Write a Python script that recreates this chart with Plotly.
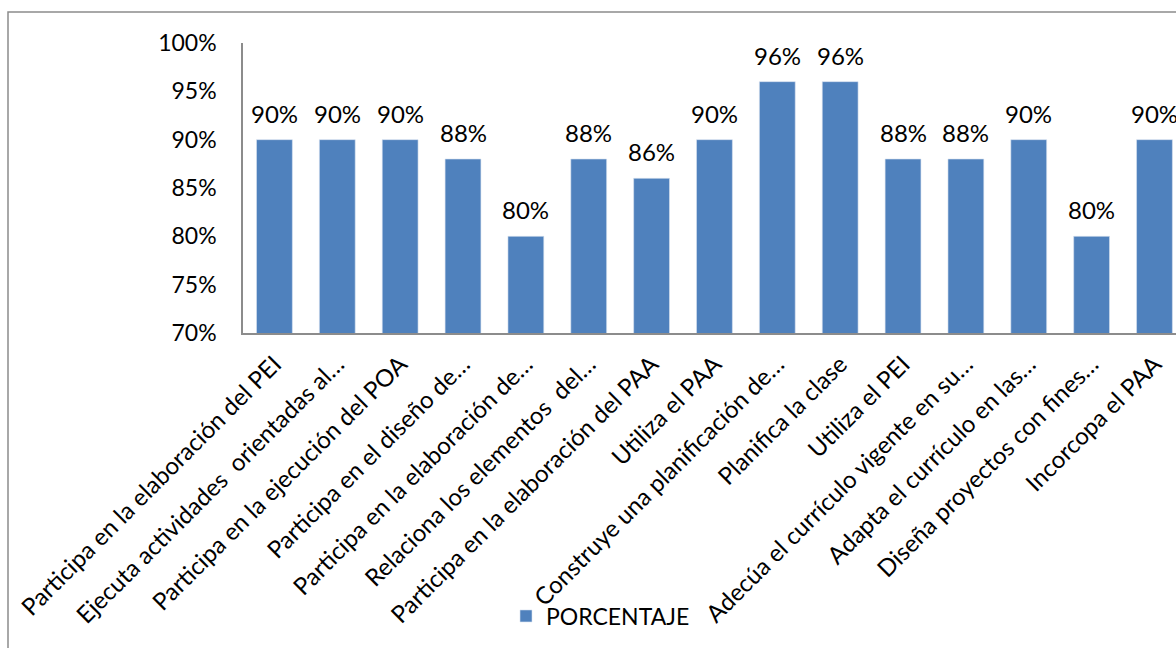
import plotly.graph_objects as go

# Survey items (abbreviated as in the source sheet) and share of positive answers
categories = [
    "Participa en la elaboración del PEI",
    "Ejecuta actividades  orientadas al…",
    "Participa en la ejecución del POA",
    "Participa en el diseño de…",
    "Participa en la elaboración de…",
    "Relaciona los elementos  del…",
    "Participa en la elaboración del PAA",
    "Utiliza el PAA",
    "Construye una planificación de…",
    "Planifica la clase",
    "Utiliza el PEI",
    "Adecúa el currículo vigente en su…",
    "Adapta el currículo en las…",
    "Diseña proyectos con fines…",
    "Incorcopa el PAA",
]
porcentaje = [0.90, 0.90, 0.90, 0.88, 0.80, 0.88, 0.86, 0.90, 0.96, 0.96,
              0.88, 0.88, 0.90, 0.80, 0.90]
y_ticks = [0.70, 0.75, 0.80, 0.85, 0.90, 0.95, 1.00]

FONT = "Lato"
BAR = "#4F81BD"
AXIS = "#8C8C8C"

W, H = 1176, 648
ML, MT, MB = 243, 43, 315
plot_w = W - ML
plot_h = H - MT - MB

fig = go.Figure()
fig.add_trace(go.Bar(
    x=categories,
    y=porcentaje,
    name="PORCENTAJE",
    marker=dict(color=BAR, line=dict(color="#D9E3F0", width=0.6)),
    cliponaxis=False,
))

# value labels above each bar
for c, v in zip(categories, porcentaje):
    fig.add_annotation(
        x=c, y=v, text=f"{v * 100:.0f}%", showarrow=False,
        yanchor="bottom", yshift=10,
        font=dict(family=FONT, size=24, color="black"),
    )

# chart frame (only the top and left edges fall inside the page)
px_to_x = lambda px: (px - ML) / plot_w
py_to_y = lambda py: (H - MB - py) / plot_h
fig.add_shape(
    type="rect", xref="paper", yref="paper",
    x0=px_to_x(8), x1=px_to_x(1200), y0=py_to_y(700), y1=py_to_y(12),
    line=dict(color=AXIS, width=1.5), fillcolor="rgba(0,0,0,0)", layer="below",
)

# categories are 62.86 px apart; the last one sits at the page edge
n_visible = plot_w / 62.86
fig.update_layout(
    width=W, height=H,
    margin=dict(l=ML, r=0, t=MT, b=MB, pad=0),
    paper_bgcolor="white", plot_bgcolor="white",
    bargap=0.43,
    showlegend=True,
    legend=dict(
        orientation="h", x=px_to_x(506), xanchor="left",
        y=py_to_y(616), yanchor="middle",
        font=dict(family=FONT, size=23, color="black"),
        bgcolor="rgba(0,0,0,0)", itemwidth=30,
    ),
    font=dict(family=FONT, size=23, color="black"),
    xaxis=dict(
        type="category", range=[-0.5, -0.5 + n_visible],
        tickangle=-45, showgrid=False, ticks="",
        showline=True, linecolor=AXIS, linewidth=1.5,
        automargin=False, ticklabelstandoff=6,
        tickfont=dict(family=FONT, size=24, color="black"),
    ),
    yaxis=dict(
        range=[0.70, 1.00], tickvals=y_ticks, tickformat=".0%",
        showgrid=False, zeroline=False, ticks="",
        showline=True, linecolor=AXIS, linewidth=1.5,
        automargin=False, ticklabelstandoff=20,
        tickfont=dict(family=FONT, size=23, color="black"),
    ),
)

fig.write_html("out.html")
